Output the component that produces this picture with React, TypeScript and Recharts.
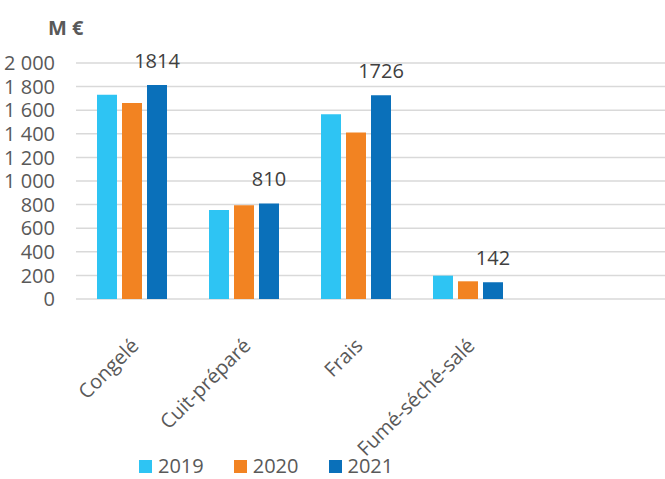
import { Bar, BarChart, CartesianGrid, LabelList, Legend, XAxis, YAxis } from "recharts";

const categories = ["Congelé", "Cuit-préparé", "Frais", "Fumé-séché-salé"];
const values2019 = [1730, 755, 1565, 198];
const values2020 = [1660, 795, 1410, 150];
const values2021 = [1814, 810, 1726, 142];
const yTicks = [0, 200, 400, 600, 800, 1000, 1200, 1400, 1600, 1800, 2000];

const seriesList = [
  { key: "y2019", name: "2019", color: "#2EC4F3" },
  { key: "y2020", name: "2020", color: "#F28322" },
  { key: "y2021", name: "2021", color: "#0A70BA" },
];

const data = categories.map((name, i) => ({
  name,
  y2019: values2019[i],
  y2020: values2020[i],
  y2021: values2021[i],
}));

const FONT = "'Open Sans', sans-serif";

const fmt = (v: number) => (v >= 1000 ? `${Math.floor(v / 1000)} ${String(v % 1000).padStart(3, "0")}` : String(v));

function CategoryTick({ x, y, payload }: any) {
  return (
    <g transform={`translate(${x + 3},${y + 35}) rotate(-45)`}>
      <text textAnchor="end" dy="0.35em" fill="#595959" fontSize={20} fontFamily={FONT}>
        {payload.value}
      </text>
    </g>
  );
}

function LegendBox() {
  return (
    <div
      style={{
        display: "flex",
        alignItems: "center",
        fontFamily: FONT,
        fontSize: 20,
        lineHeight: "26px",
        color: "#595959",
      }}
    >
      {seriesList.map((s) => (
        <div key={s.key} style={{ display: "flex", alignItems: "center", marginRight: 30 }}>
          <span style={{ width: 13, height: 13, background: s.color, display: "inline-block", marginRight: 6 }} />
          <span>{s.name}</span>
        </div>
      ))}
    </div>
  );
}

export default function App() {
  return (
    <div style={{ position: "absolute", left: 0, top: 0, width: 665, height: 479, background: "#fff" }}>
      <div
        style={{
          position: "absolute",
          left: 48,
          top: 14,
          fontFamily: FONT,
          fontWeight: 700,
          fontSize: 20,
          color: "#595959",
          zIndex: 2,
        }}
      >
        M €
      </div>
      <BarChart
        width={665}
        height={479}
        data={data}
        margin={{ top: 63, right: 0, bottom: 0, left: 0 }}
        barSize={20}
        barGap={5}
      >
        <CartesianGrid vertical={false} stroke="#D9D9D9" strokeWidth={1.5} />
        <XAxis
          dataKey="name"
          height={180}
          axisLine={false}
          tickLine={false}
          interval={0}
          padding={{ left: 0, right: 141 }}
          tick={<CategoryTick />}
        />
        <YAxis
          width={76}
          domain={[0, 2000]}
          ticks={yTicks}
          interval={0}
          axisLine={false}
          tickLine={false}
          tickMargin={15}
          tickFormatter={fmt}
          tick={{ fill: "#595959", fontSize: 20, fontFamily: FONT }}
        />
        <Legend
          layout="horizontal"
          verticalAlign="middle"
          align="center"
          wrapperStyle={{ top: 453, left: 139, width: 300, height: 26 }}
          content={() => <LegendBox />}
        />
        {seriesList.map((s) => (
          <Bar key={s.key} dataKey={s.key} name={s.name} fill={s.color} isAnimationActive={false}>
            {s.key === "y2021" && (
              <LabelList
                dataKey={s.key}
                position="top"
                offset={17}
                fill="#404040"
                fontSize={20}
                fontFamily={FONT}
              />
            )}
          </Bar>
        ))}
      </BarChart>
    </div>
  );
}
